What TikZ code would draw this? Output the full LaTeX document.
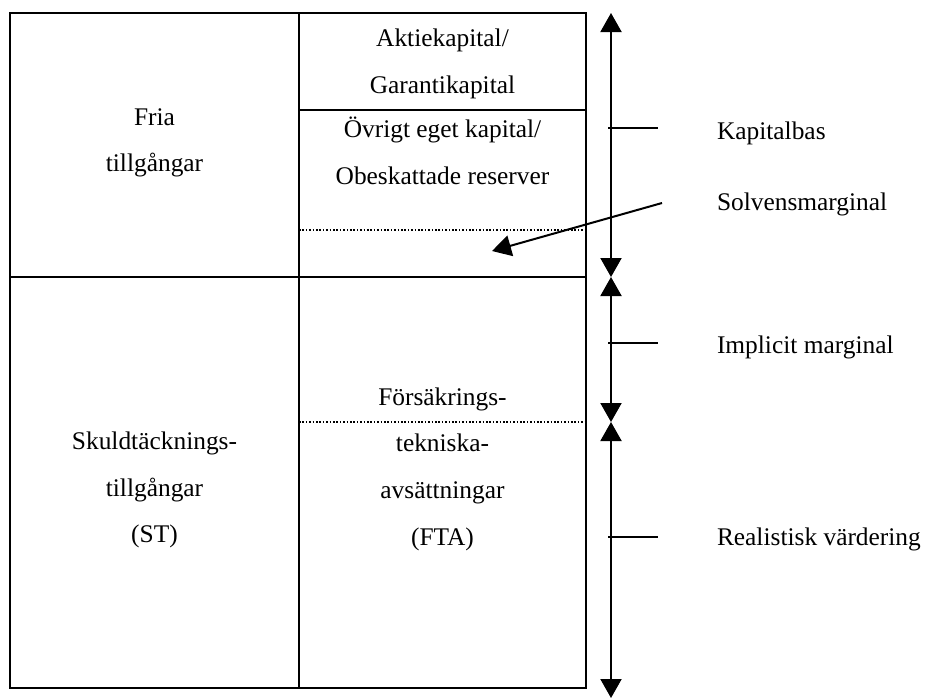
\documentclass[tikz,border=0pt]{standalone}
\usepackage{fontspec}
\setmainfont{Liberation Serif}
\usetikzlibrary{arrows.meta,positioning}

\begin{document}
\begin{tikzpicture}[x=0.5pt, y=-0.5pt, line width=1pt,
  >={Triangle[width=10.5pt,length=9.5pt]},
  txt/.style={align=center, inner sep=0pt, font=\fontsize{12.7}{23.3}\selectfont},
  lbl/.style={anchor=base west, inner sep=0pt, font=\fontsize{12.7}{23.3}\selectfont},
  fine/.style={line width=0.6pt, dash pattern=on 0.8pt off 0.9pt}]
  \useasboundingbox (0,0) rectangle (928,698);

  % balance sheet
  \draw (10,13) rectangle (299,688);
  \draw (299,13) rectangle (586,688);
  \draw (10,277) -- (586,277);
  \draw (299,110) -- (586,110);
  \draw[fine] (299,230) -- (586,230);
  \draw[fine] (299,422) -- (586,422);

  \node[txt] (fria) at (154.5,143) {Fria\\tillgångar};
  \node[txt] (aktie) at (442.5,64) {Aktiekapital/\\Garantikapital};
  \node[txt] (ovrigt) at (442.5,151) {Övrigt eget kapital/\\Obeskattade reserver};
  \node[txt] (skuld) at (154.5,490) {Skuldtäcknings-\\tillgångar\\(ST)};
  \node[txt] (fta) at (442.5,469) {Försäkrings-\\tekniska-\\avsättningar\\(FTA)};

  % scale on the right
  \coordinate (t0) at (611,13);
  \coordinate (t1) at (611,277);
  \coordinate (t2) at (611,422);
  \coordinate (t3) at (611,698);
  \draw[<->] (t0) -- (t1);
  \draw[<->] (t1) -- (t2);
  \draw[<->] (t2) -- (t3);

  \node[lbl] (kapbas) at (716,139) {Kapitalbas};
  \node[lbl] (solv) at (716,210) {Solvensmarginal};
  \node[lbl] (impl) at (716,353) {Implicit marginal};
  \node[lbl] (real) at (716,545) {Realistisk värdering};

  \coordinate (k) at (608,128);
  \coordinate (i) at (608,343);
  \coordinate (r) at (608,537);
  \draw (k) -- ++(50,0);
  \draw (i) -- ++(50,0);
  \draw (r) -- ++(50,0);

  \coordinate (s0) at (662,203);
  \coordinate (s1) at (492,251);
  \draw[->] (s0) -- (s1);
\end{tikzpicture}
\end{document}
